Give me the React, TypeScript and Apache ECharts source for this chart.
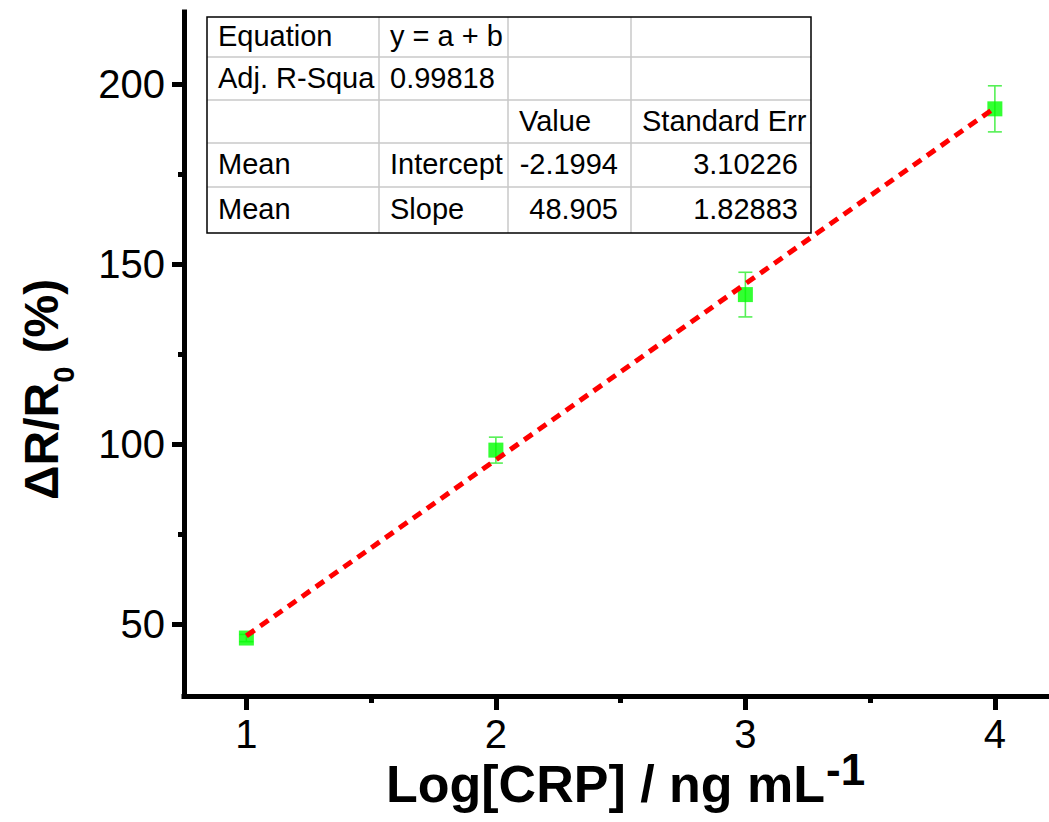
import React, { useEffect, useRef } from 'react';
import * as echarts from 'echarts';

// ---- data ----
const xValues = [1, 2, 3, 4];
const yValues = [46.1, 98.3, 141.5, 193.1];
const yErrors = [1.0, 3.6, 6.2, 6.4];
const fitX = [1, 4];
const fitY = [46.7, 193.4];
const xTicks = [1, 2, 3, 4];
const xMinorTicks = [1.5, 2.5, 3.5];
const yTicks = [50, 100, 150, 200];
const yMinorTicks = [75, 125, 175];
const tableRows = [
  ['Equation', 'y = a + b', '', ''],
  ['Adj. R-Squa', '0.99818', '', ''],
  ['', '', 'Value', 'Standard Err'],
  ['Mean', 'Intercept', '-2.1994', '3.10226'],
  ['Mean', 'Slope', '48.905', '1.82883'],
];
const xTitle = 'Log[CRP] / ng mL';
const xTitleSup = '-1';
const yTitleMain = 'ΔR/R';
const yTitleSub = '0';
const yTitleTail = ' (%)';

const FONT = '"Liberation Sans", Arial, Helvetica, sans-serif';

function measure(text: string, font: string): number {
  const c = document.createElement('canvas');
  const ctx = c.getContext('2d')!;
  ctx.font = font;
  return ctx.measureText(text).width;
}

export default function App() {
  const ref = useRef<HTMLDivElement>(null);

  useEffect(() => {
    if (!ref.current) return;
    const chart = echarts.init(ref.current, undefined, { renderer: 'svg' });

    // table layout
    const colX = [207, 379, 508, 631, 811];
    const rowY = [17, 57, 100, 143, 187, 233];
    const tableFont = 29;
    const tableEls: any[] = [];
    tableEls.push({
      type: 'rect',
      shape: { x: colX[0], y: rowY[0], width: colX[4] - colX[0], height: rowY[5] - rowY[0] },
      style: { fill: '#ffffff', stroke: 'none' },
      z: 100,
    });
    for (let i = 1; i < rowY.length - 1; i++) {
      tableEls.push({
        type: 'line',
        shape: { x1: colX[0], y1: rowY[i], x2: colX[4], y2: rowY[i] },
        style: { stroke: '#c8c8c8', lineWidth: 1.5 },
        z: 101,
      });
    }
    for (let j = 1; j < colX.length - 1; j++) {
      tableEls.push({
        type: 'line',
        shape: { x1: colX[j], y1: rowY[0], x2: colX[j], y2: rowY[5] },
        style: { stroke: '#c8c8c8', lineWidth: 1.5 },
        z: 101,
      });
    }
    tableEls.push({
      type: 'rect',
      shape: { x: colX[0], y: rowY[0], width: colX[4] - colX[0], height: rowY[5] - rowY[0] },
      style: { fill: 'none', stroke: '#000000', lineWidth: 1.5 },
      z: 102,
    });
    tableRows.forEach((row, r) => {
      row.forEach((cell, c) => {
        if (!cell) return;
        const numeric = c >= 2 && r >= 3;
        tableEls.push({
          type: 'text',
          x: numeric ? colX[c + 1] - 13 : colX[c] + 11,
          y: (rowY[r] + rowY[r + 1]) / 2 - 1,
          style: {
            text: cell,
            fill: '#000000',
            fontSize: tableFont,
            fontFamily: FONT,
            align: numeric ? 'right' : 'left',
            verticalAlign: 'middle',
          },
          z: 103,
        });
      });
    });

    // axis titles
    const xtFont = 52;
    const xtW = measure(xTitle, `bold ${xtFont}px ${FONT}`);
    const xtLeft = 386;
    const ytFont = 48;
    const ytSubFont = 29;
    const ytMainW = measure(yTitleMain, `bold ${ytFont}px ${FONT}`);
    const ytSubW = measure(yTitleSub, `bold ${ytSubFont}px ${FONT}`);
    const ytX = 41;
    const ytStart = 500;

    const titleEls: any[] = [
      {
        type: 'text',
        x: xtLeft,
        y: 784,
        style: { text: xTitle, fill: '#000', fontSize: xtFont, fontWeight: 'bold', fontFamily: FONT, align: 'left', verticalAlign: 'middle' },
      },
      {
        type: 'text',
        x: xtLeft + xtW + 1,
        y: 769,
        style: { text: xTitleSup, fill: '#000', fontSize: 44, fontWeight: 'bold', fontFamily: FONT, align: 'left', verticalAlign: 'middle' },
      },
      {
        type: 'text',
        x: ytX,
        y: ytStart,
        rotation: Math.PI / 2,
        style: { text: yTitleMain, fill: '#000', fontSize: ytFont, fontWeight: 'bold', fontFamily: FONT, align: 'left', verticalAlign: 'middle' },
      },
      {
        type: 'text',
        x: ytX + 23,
        y: ytStart - ytMainW,
        rotation: Math.PI / 2,
        style: { text: yTitleSub, fill: '#000', fontSize: ytSubFont, fontWeight: 'bold', fontFamily: FONT, align: 'left', verticalAlign: 'middle' },
      },
      {
        type: 'text',
        x: ytX,
        y: ytStart - ytMainW - ytSubW,
        rotation: Math.PI / 2,
        style: { text: yTitleTail, fill: '#000', fontSize: ytFont, fontWeight: 'bold', fontFamily: FONT, align: 'left', verticalAlign: 'middle' },
      },
    ];

    const axisLineStyle = { color: '#000', width: 5, cap: 'square' as const };
    const labelStyle = { color: '#000', fontSize: 40, fontFamily: FONT };

    chart.setOption({
      animation: false,
      backgroundColor: '#ffffff',
      grid: { left: 184, top: 12, width: 873.25, height: 684, containLabel: false, outerBoundsMode: 'none' },
      xAxis: [
        {
          type: 'value',
          min: 0.75,
          max: 4.25,
          position: 'bottom',
          axisLine: { show: true, onZero: false, lineStyle: axisLineStyle },
          axisTick: { show: true, length: 14, lineStyle: { color: '#000', width: 5 }, customValues: xTicks },
          axisLabel: { show: true, margin: 18, customValues: xTicks, ...labelStyle },
          splitLine: { show: false },
        },
        {
          type: 'value',
          min: 0.75,
          max: 4.25,
          position: 'bottom',
          axisLine: { show: false, onZero: false },
          axisTick: { show: true, length: 7, lineStyle: { color: '#000', width: 5 }, customValues: xMinorTicks },
          axisLabel: { show: false },
          splitLine: { show: false },
        },
      ],
      yAxis: [
        {
          type: 'value',
          min: 30,
          max: 220,
          position: 'left',
          axisLine: { show: true, onZero: false, lineStyle: axisLineStyle },
          axisTick: { show: true, length: 12, lineStyle: { color: '#000', width: 5 }, customValues: yTicks },
          axisLabel: { show: true, margin: 19, customValues: yTicks, ...labelStyle },
          splitLine: { show: false },
        },
        {
          type: 'value',
          min: 30,
          max: 220,
          position: 'left',
          axisLine: { show: false, onZero: false },
          axisTick: { show: true, length: 6, lineStyle: { color: '#000', width: 5 }, customValues: yMinorTicks },
          axisLabel: { show: false },
          splitLine: { show: false },
        },
      ],
      series: [
        {
          type: 'custom',
          xAxisIndex: 0,
          yAxisIndex: 0,
          z: 2,
          data: xValues.map((x, i) => [x, yValues[i], yErrors[i]]),
          encode: { x: 0, y: 1 },
          renderItem: (params: any, api: any) => {
            const x = api.value(0);
            const y = api.value(1);
            const e = api.value(2);
            const top = api.coord([x, y + e]);
            const bot = api.coord([x, y - e]);
            const hw = 7;
            const st = { stroke: '#55f055', lineWidth: 1.6 };
            return {
              type: 'group',
              children: [
                { type: 'line', shape: { x1: top[0], y1: top[1], x2: bot[0], y2: bot[1] }, style: st },
                { type: 'line', shape: { x1: top[0] - hw, y1: top[1], x2: top[0] + hw, y2: top[1] }, style: st },
                { type: 'line', shape: { x1: bot[0] - hw, y1: bot[1], x2: bot[0] + hw, y2: bot[1] }, style: st },
              ],
            };
          },
        },
        {
          type: 'scatter',
          xAxisIndex: 0,
          yAxisIndex: 0,
          z: 3,
          symbol: 'rect',
          symbolSize: 15,
          itemStyle: { color: '#00ff00' },
          data: xValues.map((x, i) => [x, yValues[i]]),
        },
        {
          type: 'line',
          xAxisIndex: 0,
          yAxisIndex: 0,
          z: 4,
          symbol: 'none',
          lineStyle: { color: '#ff0000', width: 5, type: [10, 7] },
          data: fitX.map((x, i) => [x, fitY[i]]),
        },
      ],
      graphic: [...tableEls, ...titleEls],
    });

    return () => chart.dispose();
  }, []);

  return (
    <div
      ref={ref}
      style={{ position: 'fixed', left: 0, top: 0, width: 1049, height: 822, background: '#fff' }}
    />
  );
}
